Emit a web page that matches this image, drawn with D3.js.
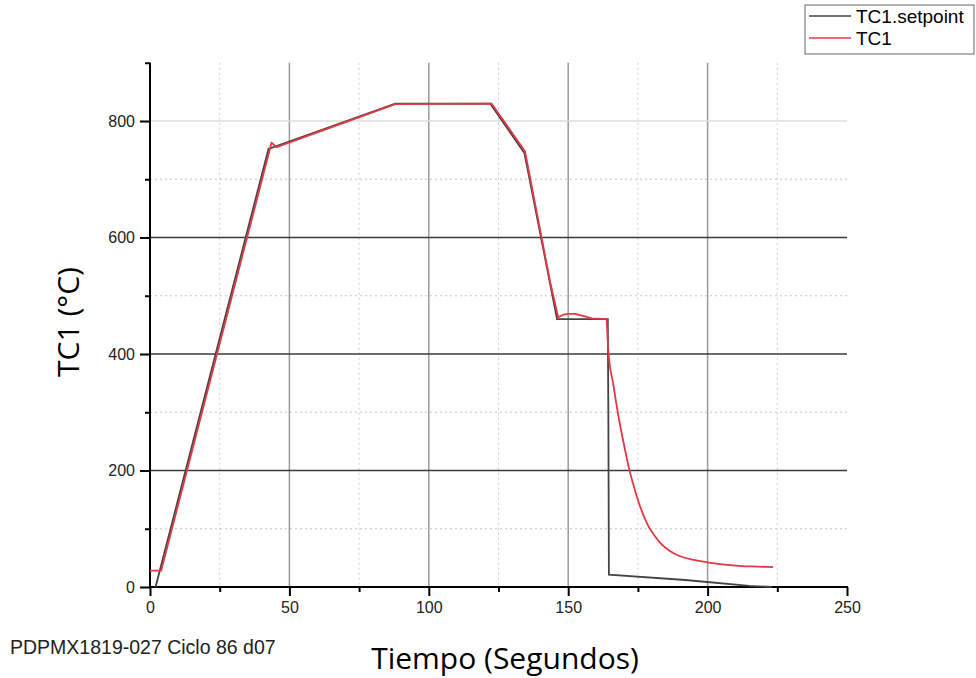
<!DOCTYPE html>
<html>
<head>
<meta charset="utf-8">
<script src="https://cdn.jsdelivr.net/npm/d3@7"></script>
<style>
  body { margin: 0; background: #fff; }
  svg text { font-family: "Liberation Sans", Arial, sans-serif; }
</style>
</head>
<body>
<div id="chart"></div>
<script>
var setpointTime = [2, 42.5, 88, 122, 134.3, 146, 164.2, 164.4, 164.6, 192, 215, 223];
var setpointTemp = [0, 752, 830, 830, 745, 460, 460, 300, 21, 12, 2, 0];

var tc1Time = [0, 4, 43.6, 45.4, 88, 122.5, 134.5, 143.5, 146.4, 148, 150, 152.5, 155, 158.5, 163.8, 164.4, 166.2, 168, 170.4, 171.6, 173.3, 175.1, 178.7, 181, 183.5, 186.5, 189.5, 195.5, 200.3, 206, 212, 218, 223.5];
var tc1Temp = [28, 28, 763, 755, 829, 830, 748, 524, 463, 467, 469, 469, 466, 461, 460, 405, 347, 294, 235, 208, 177, 148, 105, 88, 73, 62, 54, 46, 42, 38.5, 36, 35, 34];
var coolStart = 163.8; // the cooling tail after this time is drawn smoothed

var xTicks = [0, 50, 100, 150, 200, 250];
var yTicks = [0, 200, 400, 600, 800];
var xMinor = [25, 75, 125, 175, 225];
var yMinor = [100, 300, 500, 700, 900];

var seriesNames = ["TC1.setpoint", "TC1"];
var seriesColors = ["#444444", "#e33744"];

var width = 976, height = 678;
var x0 = 150, x1 = 847, y0 = 587, yTop = 62.75;

var svg = d3.select("#chart").append("svg")
    .attr("width", width)
    .attr("height", height);

var x = d3.scaleLinear().domain([0, 250]).range([x0, x1]);
var y = d3.scaleLinear().domain([0, 900]).range([y0, yTop]);

// minor dotted grid
svg.selectAll(".vminor").data(xMinor).enter().append("line")
    .attr("x1", function(d) { return x(d); }).attr("x2", function(d) { return x(d); })
    .attr("y1", yTop).attr("y2", y0)
    .style("stroke", "#cfcfcf").style("stroke-dasharray", "2,3");
svg.selectAll(".hminor").data(yMinor.filter(function(d) { return d < 900; })).enter().append("line")
    .attr("x1", x0).attr("x2", x1)
    .attr("y1", function(d) { return y(d); }).attr("y2", function(d) { return y(d); })
    .style("stroke", "#c4c4c4").style("stroke-dasharray", "2,3");

// major grid
svg.selectAll(".vmajor").data(xTicks.filter(function(d) { return d > 0 && d < 250; })).enter().append("line")
    .attr("x1", function(d) { return x(d); }).attr("x2", function(d) { return x(d); })
    .attr("y1", yTop).attr("y2", y0)
    .style("stroke", "#9a9a9a").style("stroke-width", 1.5);
svg.selectAll(".hmajor").data(yTicks.filter(function(d) { return d > 0; })).enter().append("line")
    .attr("x1", x0).attr("x2", x1)
    .attr("y1", function(d) { return y(d); }).attr("y2", function(d) { return y(d); })
    .style("stroke", function(d) { return d === 800 ? "#dcdcdc" : "#3a3a3a"; })
    .style("stroke-width", 1.3);

// axes
svg.append("g")
    .attr("transform", "translate(0," + y0 + ")")
    .call(d3.axisBottom(x).tickValues(xTicks).tickSize(9).tickPadding(6).tickFormat(d3.format("d")));
svg.append("g")
    .attr("transform", "translate(0," + y0 + ")")
    .call(d3.axisBottom(x).tickValues(xMinor).tickSize(5).tickFormat(""));

svg.append("g")
    .attr("transform", "translate(" + x0 + ",0)")
    .call(d3.axisLeft(y).tickValues(yTicks).tickSize(10).tickPadding(5).tickFormat(d3.format("d")));
svg.append("g")
    .attr("transform", "translate(" + x0 + ",0)")
    .call(d3.axisLeft(y).tickValues(yMinor).tickSize(5).tickFormat(""));

svg.selectAll(".domain").remove();
svg.append("line").attr("x1", x0).attr("x2", x1 + 1).attr("y1", y0).attr("y2", y0)
    .style("stroke", "#000").style("stroke-width", 2);
svg.append("line").attr("x1", x0).attr("x2", x0).attr("y1", yTop).attr("y2", y0 + 1)
    .style("stroke", "#000").style("stroke-width", 2);

svg.selectAll(".tick line").style("stroke", "#000").style("stroke-width", 2);
svg.selectAll(".tick text").style("font-size", "16px").style("fill", "#222");

// lines
var line = d3.line()
    .x(function(d) { return x(d[0]); })
    .y(function(d) { return y(d[1]); });
var smoothLine = d3.line()
    .x(function(d) { return x(d[0]); })
    .y(function(d) { return y(d[1]); })
    .curve(d3.curveMonotoneX);

var setpointData = setpointTime.map(function(t, i) { return [t, setpointTemp[i]]; });
var tc1Data = tc1Time.map(function(t, i) { return [t, tc1Temp[i]]; });

svg.append("path").datum(setpointData)
    .attr("d", line)
    .style("fill", "none").style("stroke", seriesColors[0]).style("stroke-width", 1.8);

svg.append("path").datum(tc1Data.filter(function(d) { return d[0] <= coolStart; }))
    .attr("d", line)
    .style("fill", "none").style("stroke", seriesColors[1]).style("stroke-width", 1.8)
    .style("stroke-linejoin", "round");
svg.append("path").datum(tc1Data.filter(function(d) { return d[0] >= coolStart; }))
    .attr("d", smoothLine)
    .style("fill", "none").style("stroke", seriesColors[1]).style("stroke-width", 1.8)
    .style("stroke-linejoin", "round");

// axis titles
svg.append("text")
    .attr("transform", "translate(79,322) rotate(-90)")
    .style("text-anchor", "middle")
    .style("font-family", "'Open Sans', sans-serif")
    .style("font-size", "30px")
    .text("TC1 (°C)");

svg.append("text")
    .attr("x", 505).attr("y", 669)
    .style("text-anchor", "middle")
    .style("font-family", "'Open Sans', sans-serif")
    .style("font-size", "30px")
    .text("Tiempo (Segundos)");

svg.append("text")
    .attr("x", 10).attr("y", 654)
    .style("font-size", "19.5px")
    .style("fill", "#222")
    .text("PDPMX1819-027 Ciclo 86 d07");

// legend
var legend = svg.append("g").attr("transform", "translate(805,5)");
legend.append("rect")
    .attr("width", 169).attr("height", 49)
    .style("fill", "#fff").style("stroke", "#666").style("stroke-width", 1);

var items = legend.selectAll(".legend").data(seriesNames).enter().append("g")
    .attr("transform", function(d, i) { return "translate(0," + (11 + i * 22) + ")"; });
items.append("line")
    .attr("x1", 4).attr("x2", 46).attr("y1", 0).attr("y2", 0)
    .style("stroke", function(d, i) { return seriesColors[i]; }).style("stroke-width", 1.3);
items.append("text")
    .attr("x", 51).attr("y", 0).attr("dy", "0.36em")
    .style("font-size", "19px")
    .text(function(d) { return d; });
</script>
</body>
</html>
